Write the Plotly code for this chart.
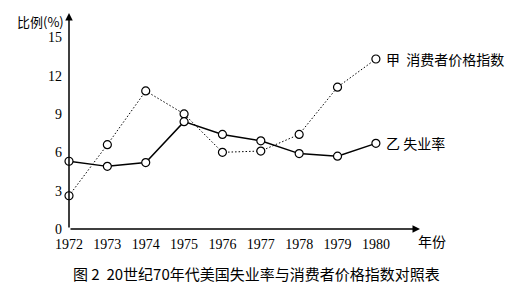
import plotly.graph_objects as go

years = [1972, 1973, 1974, 1975, 1976, 1977, 1978, 1979, 1980]
cpi = [2.6, 6.6, 10.8, 9.0, 6.0, 6.1, 7.4, 11.1, 13.3]
unemployment = [5.3, 4.9, 5.2, 8.4, 7.4, 6.9, 5.9, 5.7, 6.7]
y_ticks = [0, 3, 6, 9, 12, 15]

NUM_FONT = "Liberation Serif"
CJK_FONT = "Noto Sans CJK SC"

fig = go.Figure()
fig.add_trace(go.Scatter(
    x=years, y=cpi, mode="lines+markers",
    line=dict(color="black", width=1, dash="1.5px,2px"),
    marker=dict(symbol="circle", size=8, color="white", line=dict(color="black", width=1.2)),
    showlegend=False, cliponaxis=False))
fig.add_trace(go.Scatter(
    x=years, y=unemployment, mode="lines+markers",
    line=dict(color="black", width=1.5),
    marker=dict(symbol="circle", size=8, color="white", line=dict(color="black", width=1.2)),
    showlegend=False, cliponaxis=False))

x_max = 1981.15
y_max = 16.9

fig.update_layout(
    width=519, height=286,
    margin=dict(l=69, r=519 - 420, t=13, b=57),
    plot_bgcolor="white", paper_bgcolor="white",
    xaxis=dict(range=[1972, x_max], tickvals=years, ticktext=[str(y) for y in years],
               showgrid=False, zeroline=False, showline=False,
               tickfont=dict(family=NUM_FONT, size=14, color="black"),
               ticks="", ticklabelstandoff=5),
    yaxis=dict(range=[0, y_max], tickvals=y_ticks, showgrid=False, zeroline=False,
               showline=False, tickfont=dict(family=NUM_FONT, size=14, color="black"),
               ticks="", ticklabelstandoff=6),
)

# axis arrows
fig.add_annotation(x=x_max, y=0, ax=1972, ay=0, xref="x", yref="y", axref="x", ayref="y",
                   showarrow=True, arrowhead=2, arrowsize=1, arrowwidth=1.5, arrowcolor="black", text="")
fig.add_annotation(x=1972, y=y_max, ax=1972, ay=0, xref="x", yref="y", axref="x", ayref="y",
                   showarrow=True, arrowhead=2, arrowsize=1, arrowwidth=1.5, arrowcolor="black", text="")

# labels
fig.add_annotation(x=1980, y=cpi[-1], xref="x", yref="y", xanchor="left", xshift=8, showarrow=False,
                   text="甲  消费者价格指数", font=dict(family=CJK_FONT, size=14, color="black"))
fig.add_annotation(x=1980, y=unemployment[-1], xref="x", yref="y", xanchor="left", xshift=8, showarrow=False,
                   text="乙 失业率", font=dict(family=CJK_FONT, size=14, color="black"))
fig.add_annotation(x=1972, y=y_max, xref="x", yref="y", xanchor="right", xshift=-3, yanchor="middle", yshift=-8,
                   showarrow=False, text="比例(%)", font=dict(family=CJK_FONT, size=13, color="black"))
fig.add_annotation(x=x_max, y=0, xref="x", yref="y", xanchor="left", xshift=-4, yanchor="middle", yshift=-12,
                   showarrow=False, text="年份", font=dict(family=CJK_FONT, size=14, color="black"))
fig.add_annotation(x=277 / 519, y=(229 - 273) / 216, xref="paper", yref="paper", xanchor="center",
                   yanchor="middle", showarrow=False,
                   text="图 2  20世纪70年代美国失业率与消费者价格指数对照表",
                   font=dict(family=CJK_FONT, size=15, color="black"))

fig.write_html("out.html")
